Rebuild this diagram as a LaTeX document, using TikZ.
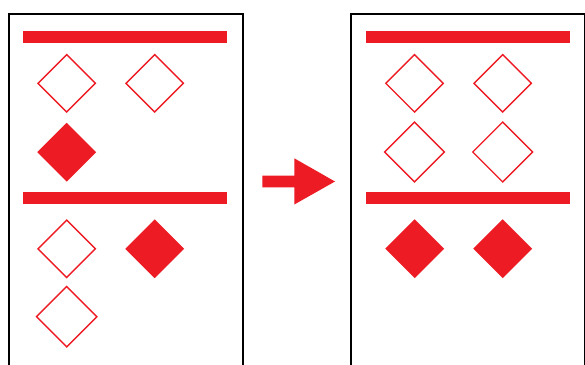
\documentclass[tikz,border=0pt]{standalone}
\usetikzlibrary{shapes.geometric}
\definecolor{myred}{HTML}{ED1C24}
\begin{document}
\begin{tikzpicture}[x=1pt,y=-1pt,
  panel/.style={draw=black,line width=2pt},
  bar/.style={fill=myred},
  dia/.style={shape=diamond,aspect=1,inner sep=0pt,minimum size=58pt},
  odia/.style={dia,draw=myred,line width=1.4pt,fill=white},
  fdia/.style={dia,fill=myred},
  bigarrow/.style={fill=myred}]
\useasboundingbox (0,0) rectangle (585,364);
\clip (0,0) rectangle (585,364);
% left panel
\draw[panel] (9,14) rectangle (243,380);
\fill[bar] (23,31) rectangle (227,43);
\fill[bar] (23,192) rectangle (227,204);
\node[odia] (l1) at (66.7,83.3) {};
\node[odia] (l2) at (154.7,83.3) {};
\node[fdia,minimum size=59pt] (l3) at (66.7,152.2) {};
\node[odia] (l4) at (66.7,248.8) {};
\node[fdia,minimum size=59pt] (l5) at (154.7,248.8) {};
\node[odia,minimum size=61pt] (l6) at (66.7,316.7) {};
% right panel
\draw[panel] (351,14) rectangle (585,380);
\fill[bar] (366,31) rectangle (570,43);
\fill[bar] (366,192) rectangle (570,204);
\node[odia] (r1) at (414.5,83.3) {};
\node[odia] (r2) at (502.7,83.3) {};
\node[odia,minimum size=60.5pt] (r3) at (414.5,152) {};
\node[odia,minimum size=60.5pt] (r4) at (502.7,152) {};
\node[fdia,minimum size=59pt] (r5) at (414.7,248.7) {};
\node[fdia,minimum size=59pt] (r6) at (502.7,248.7) {};
% arrow
\fill[bigarrow] (262.3,175.7) -- (294.3,175.7) -- (294.3,158.3) -- (335,181.5) -- (294.3,204.5) -- (294.3,187.3) -- (262.3,187.3) -- cycle;
\end{tikzpicture}
\end{document}
